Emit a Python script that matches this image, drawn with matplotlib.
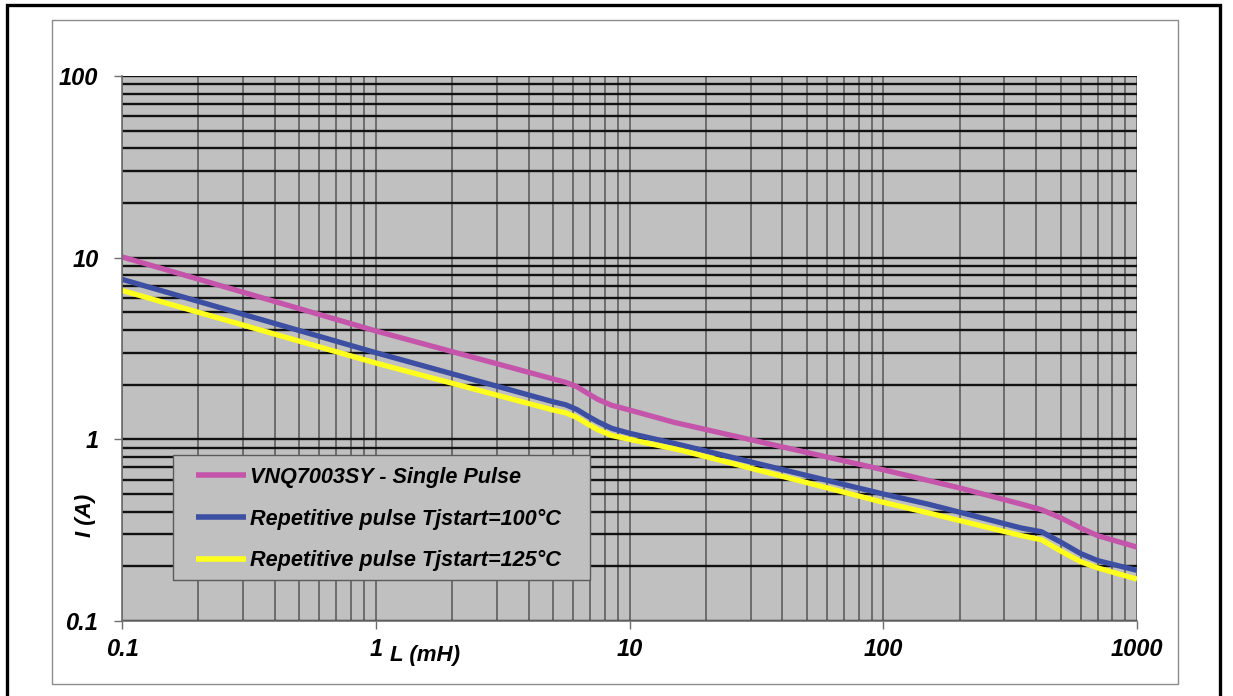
import matplotlib
matplotlib.use('Agg')
import matplotlib.pyplot as plt
from matplotlib.patches import Rectangle
from matplotlib.ticker import LogLocator, NullFormatter

plt.rcParams['font.family'] = ['Liberation Sans', 'DejaVu Sans']

# ---- data ----
L_single = [0.1, 1, 5, 5.6, 6.2, 6.8, 7.5, 8.5, 10, 15, 100, 200, 350, 420, 500, 600, 700, 1000]
I_single = [10.1, 3.95, 2.15, 2.06, 1.95, 1.80, 1.66, 1.54, 1.45, 1.24, 0.68, 0.54, 0.44, 0.41, 0.37, 0.325, 0.295, 0.255]

L_rep100 = [0.1, 1, 5, 5.6, 6.2, 6.8, 7.5, 8.5, 10, 16, 100, 150, 350, 420, 500, 600, 700, 1000]
I_rep100 = [7.6, 3.0, 1.61, 1.55, 1.46, 1.35, 1.25, 1.15, 1.08, 0.93, 0.5, 0.44, 0.325, 0.31, 0.272, 0.235, 0.215, 0.19]

L_rep125 = [0.1, 1, 5, 5.6, 6.2, 6.8, 7.5, 8.5, 10, 16, 100, 150, 350, 420, 500, 600, 700, 1000]
I_rep125 = [6.6, 2.63, 1.45, 1.40, 1.32, 1.22, 1.13, 1.05, 1.0, 0.87, 0.45, 0.394, 0.295, 0.28, 0.243, 0.212, 0.196, 0.17]

series_labels = ['VNQ7003SY - Single Pulse',
                 'Repetitive pulse Tjstart=100°C',
                 'Repetitive pulse Tjstart=125°C']
series_colors = ['#c455aa', '#3c4fa2', '#ffff1e']

x_ticks = [0.1, 1, 10, 100, 1000]
x_ticklabels = ['0.1', '1', '10', '100', '1000']
y_ticks = [0.1, 1, 10, 100]
y_ticklabels = ['0.1', '1', '10', '100']

W, H = 1233, 696
fig = plt.figure(figsize=(W / 100, H / 100), dpi=100)
fig.patch.set_facecolor('white')

def fx(px):
    return px / W

def fy(py):
    return 1 - py / H

# outer black frame and inner gray chart border
fig.add_artist(Rectangle((fx(7), fy(700)), fx(1220) - fx(7), fy(5) - fy(700),
                         transform=fig.transFigure, fill=False,
                         edgecolor='black', linewidth=2.4))
fig.add_artist(Rectangle((fx(52), fy(684)), fx(1178) - fx(52), fy(20) - fy(684),
                         transform=fig.transFigure, fill=False,
                         edgecolor='#8c8c8c', linewidth=1.0))

ax = fig.add_axes([fx(122), fy(621), fx(1137) - fx(122), fy(76) - fy(621)])
ax.set_facecolor('#c0c0c0')
ax.set_xscale('log')
ax.set_yscale('log')
ax.set_xlim(0.1, 1000)
ax.set_ylim(0.1, 100)

ax.xaxis.set_minor_locator(LogLocator(base=10, subs=range(2, 10)))
ax.yaxis.set_minor_locator(LogLocator(base=10, subs=range(2, 10)))
ax.xaxis.set_minor_formatter(NullFormatter())
ax.yaxis.set_minor_formatter(NullFormatter())
ax.set_xticks(x_ticks)
ax.set_xticklabels(x_ticklabels)
ax.set_yticks(y_ticks)
ax.set_yticklabels(y_ticklabels)

ax.set_axisbelow(True)
ax.grid(which='both', axis='y', color='#111111', linewidth=1.7)
ax.grid(which='both', axis='x', color='#5e5e5e', linewidth=1.2)

for s in ['top', 'right']:
    ax.spines[s].set_visible(False)
for s in ['left', 'bottom']:
    ax.spines[s].set_color('#6e6e6e')
    ax.spines[s].set_linewidth(1.2)

ax.tick_params(which='major', length=6, width=1.0, color='#6e6e6e')
ax.tick_params(which='minor', length=0)
ax.tick_params(axis='x', pad=6, labelsize=17)
ax.tick_params(axis='y', pad=11, labelsize=17)
for lab in ax.get_xticklabels() + ax.get_yticklabels():
    lab.set_fontweight('bold')
    lab.set_fontstyle('italic')

for Ls, Is, lab, col in zip([L_single, L_rep100, L_rep125],
                            [I_single, I_rep100, I_rep125],
                            series_labels, series_colors):
    ax.plot(Ls, Is, color=col, linewidth=3.8, label=lab,
            solid_joinstyle='round', solid_capstyle='butt')

# legend frame drawn separately so its padding matches the reference
leg_box = Rectangle((fx(173), fy(580)), fx(590) - fx(173), fy(455) - fy(580),
                    transform=fig.transFigure, facecolor='#c0c0c0',
                    edgecolor='#5a5a5a', linewidth=1.0, zorder=4)
ax.add_artist(leg_box)
leg_box.set_transform(fig.transFigure)
leg_box.set_clip_on(False)

leg = ax.legend(loc='upper left',
                bbox_to_anchor=(fx(196), fy(467)),
                bbox_transform=fig.transFigure,
                frameon=False,
                prop={'weight': 'bold', 'style': 'italic', 'size': 15.6},
                handlelength=2.3, handletextpad=0.2, labelspacing=0.95,
                borderpad=0.0, borderaxespad=0)
leg.set_zorder(5)
for line in leg.get_lines():
    line.set_linewidth(4.0)

fig.text(fx(390), fy(656), 'L (mH)', ha='left', va='center',
         fontsize=16, fontweight='bold', fontstyle='italic')
fig.text(fx(85), fy(515), 'I (A)', ha='center', va='center', rotation=90,
         fontsize=16, fontweight='bold', fontstyle='italic')

fig.savefig('out.png', dpi=100)
